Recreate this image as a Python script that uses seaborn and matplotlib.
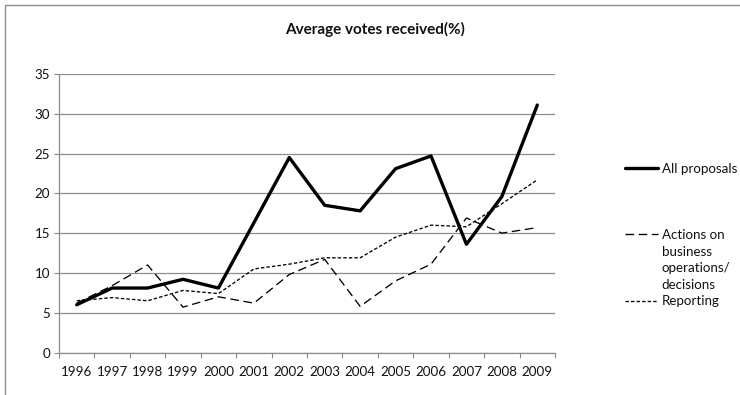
import numpy as np
import pandas as pd
import matplotlib
matplotlib.use("Agg")
import matplotlib.pyplot as plt
from matplotlib.lines import Line2D
from matplotlib.patches import Rectangle
from matplotlib.ticker import FixedLocator
import seaborn as sns

years = [1996, 1997, 1998, 1999, 2000, 2001, 2002, 2003, 2004, 2005, 2006, 2007, 2008, 2009]
all_proposals = [6.0, 8.1, 8.1, 9.2, 8.1, 16.3, 24.5, 18.5, 17.8, 23.1, 24.7, 13.6, 19.6, 31.1]
actions = [6.2, 8.4, 11.0, 5.7, 7.0, 6.2, 9.8, 11.7, 5.8, 9.0, 11.1, 16.9, 15.0, 15.7]
reporting = [6.5, 6.9, 6.5, 7.8, 7.4, 10.5, 11.1, 11.9, 11.9, 14.5, 16.0, 15.8, 18.7, 21.7]
series_names = ["All proposals", "Actions on business operations/ decisions", "Reporting"]
title_text = "Average votes received(%)"

df = pd.DataFrame({"year": years, "all": all_proposals, "actions": actions, "reporting": reporting})

sns.set_theme(style="white")
plt.rcParams["font.family"] = ["Lato", "DejaVu Sans"]

fig = plt.figure(figsize=(7.4, 3.95), dpi=100)
ax = fig.add_axes([59 / 740, 1 - 352.5 / 395, (555 - 59) / 740, (352.5 - 74) / 395])

rep_style = (0, (2.6, 1.6))
act_style = (0, (6.5, 3.5))

sns.lineplot(data=df, x="year", y="reporting", ax=ax, color="black", linewidth=0.95,
             linestyle=rep_style)
sns.lineplot(data=df, x="year", y="actions", ax=ax, color="black", linewidth=0.95,
             linestyle=act_style)
sns.lineplot(data=df, x="year", y="all", ax=ax, color="black", linewidth=2.4)

ax.set_xlim(years[0] - 0.5, years[-1] + 0.5)
ax.set_ylim(0, 35)
ax.set_yticks(np.arange(0, 36, 5))
ax.set_xticks(years)
ax.set_xticklabels([str(y) for y in years])
ax.xaxis.set_minor_locator(FixedLocator(np.arange(years[0] - 0.5, years[-1] + 0.6, 1)))
ax.tick_params(axis="x", which="major", length=0, pad=10, labelsize=9.6, labelcolor="#111111")
ax.tick_params(axis="x", which="minor", length=3.5, width=0.8, color="#888888", direction="out", bottom=True)
ax.tick_params(axis="y", which="major", length=3.5, width=0.8, color="#888888", direction="out",
               left=True, pad=3, labelsize=9.6, labelcolor="#111111")
ax.set_xlabel("")
ax.set_ylabel("")
ax.grid(axis="y", color="#8c8c8c", linewidth=0.9)
ax.grid(axis="x", visible=False)
for side in ["top", "right"]:
    ax.spines[side].set_visible(False)
for side in ["left", "bottom"]:
    ax.spines[side].set_color("#8c8c8c")
    ax.spines[side].set_linewidth(0.9)
ax.set_axisbelow(True)

fig.text(375 / 740, 1 - 29 / 395, title_text, ha="center", va="center",
         fontsize=11, fontweight="bold", color="#111111")

# Legend (Excel-style with wrapped second entry)
blank = Line2D([], [], color="none")
h_all = Line2D([], [], color="black", linewidth=2.4)
h_act = Line2D([], [], color="black", linewidth=0.95, linestyle=act_style)
h_rep = Line2D([], [], color="black", linewidth=0.95, linestyle=rep_style)
words = ["Actions on", "business", "operations/", "decisions"]
handles = [h_all, blank, blank, blank, h_act, blank, blank, blank, h_rep]
labels = [series_names[0], "", "", "", words[0], words[1], words[2], words[3], series_names[2]]
leg = fig.legend(handles, labels, loc="upper left", bbox_to_anchor=(625 / 740, 1 - 163 / 395),
                 frameon=False, fontsize=9.6, handlelength=2.5, handletextpad=0.25,
                 labelspacing=0.34, borderpad=0, borderaxespad=0)
for t in leg.get_texts():
    t.set_color("#111111")

fig.patches.append(Rectangle((4.5 / 740, -0.05), 1.0, 1 - 4.5 / 395 + 0.05, transform=fig.transFigure,
                             fill=False, edgecolor="#8c8c8c", linewidth=1.0, clip_on=False))

fig.savefig("out.png", dpi=100)
